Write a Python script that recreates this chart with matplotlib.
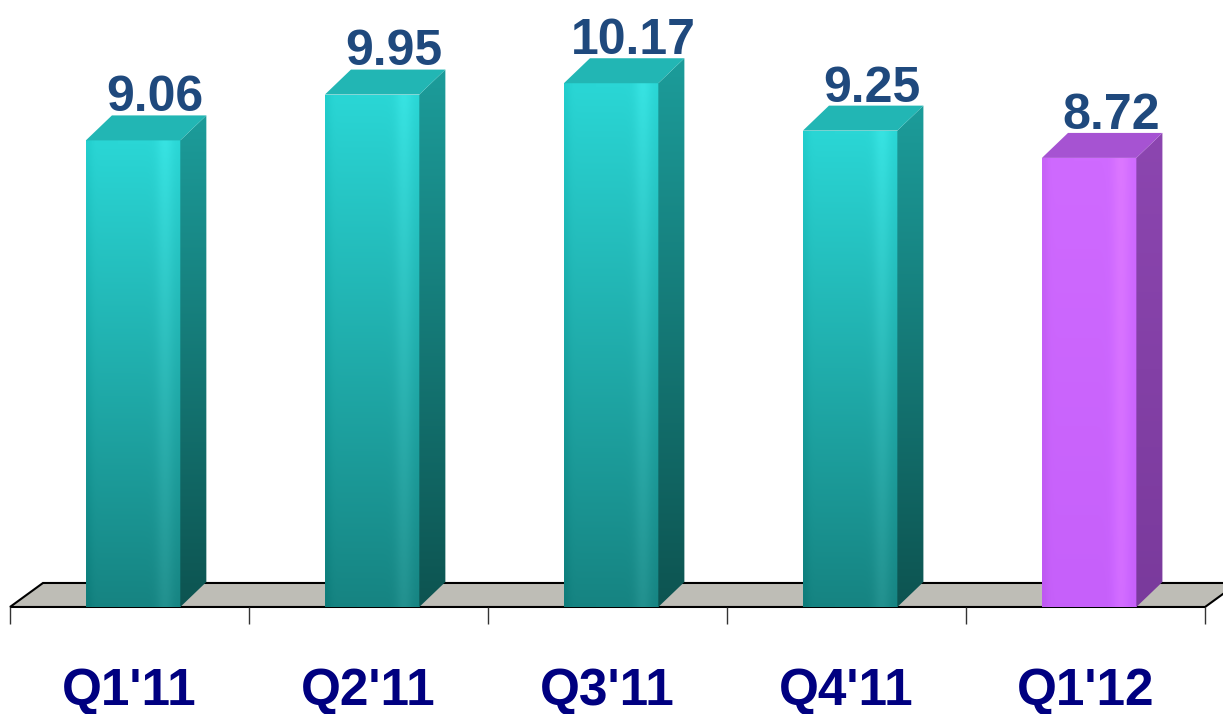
import numpy as np
import matplotlib
matplotlib.use("Agg")
import matplotlib.pyplot as plt
from matplotlib.patches import Polygon
from matplotlib.colors import to_rgb

# dados
quarters = ["Q1'11", "Q2'11", "Q3'11", "Q4'11", "Q1'12"]
values = [9.06, 9.95, 10.17, 9.25, 8.72]
highlight = "Q1'12"

# esquemas de cor (frente topo/base, lateral topo/base, tampa)
schemes = {
    'teal': dict(front=('#2ad6d5', '#168482'), side=('#1c9c9a', '#0d5451'), top='#22b6b4'),
    'purple': dict(front=('#cf6aff', '#c660fa'), side=('#8c46b0', '#7a3a9c'), top='#a653d2'),
}

plt.rcParams['font.family'] = ['Liberation Sans', 'DejaVu Sans']

fig = plt.figure(figsize=(12.23, 7.14), dpi=100)
ax = fig.add_axes([0, 0, 1, 1])
ax.set_xlim(-0.5418, 4.575)
ax.set_ylim(-2.078, 11.786)
ax.axis('off')

width = 0.395
dx, dy = 0.109, 0.485      # profundidade das barras
fdx, fdy = 0.138, 0.466    # profundidade do piso
x = np.arange(len(quarters)) + 0.015

# piso
n = len(quarters)
floor = Polygon([(-0.5, 0), (n - 0.5, 0), (n - 0.5 + fdx, fdy), (-0.5 + fdx, fdy)],
                closed=True, fc='#bebdb6', ec='black', lw=1.5, zorder=1)
ax.add_patch(floor)
ax.vlines(np.arange(n + 1) - 0.5, -0.33, 0, color='#333333', lw=1, zorder=1)


def gradient(c_top, c_bot, ny=64, nx=48, stripe=True):
    t = np.linspace(1, 0, ny)[:, None, None]
    top = np.array(to_rgb(c_top))
    bot = np.array(to_rgb(c_bot))
    img = bot + (top - bot) * t
    img = np.repeat(img, nx, axis=1)
    if stripe:
        s = np.linspace(0, 1, nx)
        light = 0.05 * np.exp(-((s - 0.84) / 0.09) ** 2) - 0.03 * np.exp(-(s / 0.06) ** 2)
        img = img + light[None, :, None]
    return np.clip(img, 0, 1)


bars = ax.bar(x, values, width=width, color='none', zorder=3)
for q, v, b in zip(quarters, values, bars):
    sc = schemes['purple' if q == highlight else 'teal']
    x0 = b.get_x()
    x1 = x0 + width
    # frente
    im = ax.imshow(gradient(*sc['front']), extent=(x0, x1, 0, v), aspect='auto',
                   zorder=3, interpolation='bilinear')
    im.set_clip_path(b)
    # lateral
    side = Polygon([(x1, 0), (x1 + dx, dy), (x1 + dx, v + dy), (x1, v)], closed=True,
                   fc='none', ec='none', zorder=3)
    ax.add_patch(side)
    im2 = ax.imshow(gradient(*sc['side'], stripe=False), extent=(x1, x1 + dx, 0, v + dy),
                    aspect='auto', zorder=3, interpolation='bilinear')
    im2.set_clip_path(side)
    # tampa
    ax.add_patch(Polygon([(x0, v), (x0 + dx, v + dy), (x1 + dx, v + dy), (x1, v)],
                         closed=True, fc=sc['top'], ec='none', zorder=3))
    ax.text(x0 + width / 2 + 0.092, v + dy + 0.08, f'{v:.2f}', ha='center', va='baseline',
            fontsize=36, fontweight='bold', color='#1f497d', zorder=4)

for i, q in enumerate(quarters):
    ax.text(i, -1.9, q, ha='center', va='baseline', fontsize=37,
            fontweight='bold', color='#000080')

fig.savefig('out.png', dpi=100)
